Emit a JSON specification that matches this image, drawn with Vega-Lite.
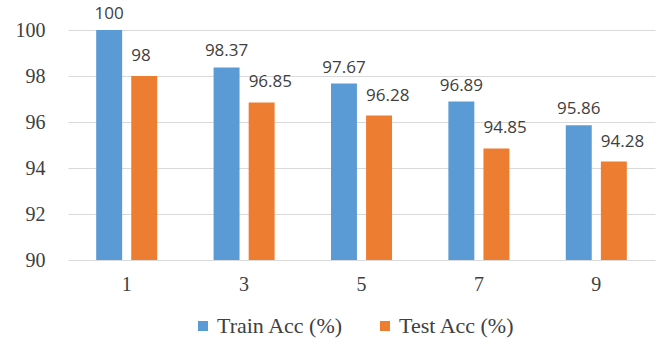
{
  "$schema": "https://vega.github.io/schema/vega-lite/v6.json",
  "autosize": {"type": "none"},
  "padding": {"left": 68, "top": 30, "right": 6, "bottom": 85},
  "width": 587,
  "height": 230,
  "background": "white",
  "data": {
    "values": [
      {"k": "1", "series": "Train Acc (%)", "acc": 100},
      {"k": "1", "series": "Test Acc (%)", "acc": 98},
      {"k": "3", "series": "Train Acc (%)", "acc": 98.37},
      {"k": "3", "series": "Test Acc (%)", "acc": 96.85},
      {"k": "5", "series": "Train Acc (%)", "acc": 97.67},
      {"k": "5", "series": "Test Acc (%)", "acc": 96.28},
      {"k": "7", "series": "Train Acc (%)", "acc": 96.89},
      {"k": "7", "series": "Test Acc (%)", "acc": 94.85},
      {"k": "9", "series": "Train Acc (%)", "acc": 95.86},
      {"k": "9", "series": "Test Acc (%)", "acc": 94.28}
    ]
  },
  "encoding": {
    "x": {
      "field": "k",
      "type": "ordinal",
      "scale": {"paddingInner": 0.48, "paddingOuter": 0.24},
      "axis": {
        "title": null,
        "labelAngle": 0,
        "domain": false,
        "ticks": false,
        "labelFont": "Liberation Serif",
        "labelFontSize": 20,
        "labelColor": "#404040",
        "labelPadding": 14
      }
    },
    "xOffset": {
      "field": "series",
      "type": "nominal",
      "sort": ["Train Acc (%)", "Test Acc (%)"],
      "scale": {"paddingInner": 0.26, "paddingOuter": 0}
    },
    "y": {
      "field": "acc",
      "type": "quantitative",
      "scale": {"domain": [90, 100], "nice": false, "zero": false},
      "axis": {
        "title": null,
        "values": [90, 92, 94, 96, 98, 100],
        "domain": false,
        "ticks": false,
        "gridColor": "#d9d9d9",
        "gridWidth": 1,
        "labelFont": "Liberation Serif",
        "labelFontSize": 20,
        "labelColor": "#404040",
        "labelPadding": 23
      }
    }
  },
  "layer": [
    {
      "mark": {"type": "bar", "clip": true},
      "encoding": {
        "y2": {"datum": 90},
        "color": {
          "field": "series",
          "type": "nominal",
          "sort": ["Train Acc (%)", "Test Acc (%)"],
          "scale": {"domain": ["Train Acc (%)", "Test Acc (%)"], "range": ["#5B9BD5", "#ED7D31"]},
          "legend": {
            "title": null,
            "orient": "none",
            "legendX": 124,
            "legendY": 285,
            "direction": "horizontal",
            "symbolType": "square",
            "symbolSize": 100,
            "symbolStrokeWidth": 0,
            "labelFont": "Liberation Serif",
            "labelFontSize": 22,
            "labelColor": "#404040",
            "labelOffset": 3,
            "columnPadding": 30,
            "labelLimit": 300
          }
        }
      }
    },
    {
      "transform": [{"filter": "datum.series === 'Train Acc (%)'"}],
      "mark": {"type": "text", "align": "center", "baseline": "alphabetic", "dy": -11, "font": "Open Sans", "fontSize": 17, "color": "#404040", "clip": false},
      "encoding": {"text": {"field": "acc", "type": "quantitative"}}
    },
    {
      "transform": [{"filter": "datum.series === 'Test Acc (%)'"}],
      "mark": {"type": "text", "align": "left", "baseline": "alphabetic", "dx": -13, "dy": -15, "font": "Open Sans", "fontSize": 17, "color": "#404040", "clip": false},
      "encoding": {"text": {"field": "acc", "type": "quantitative"}}
    }
  ],
  "config": {"view": {"stroke": null}}
}
